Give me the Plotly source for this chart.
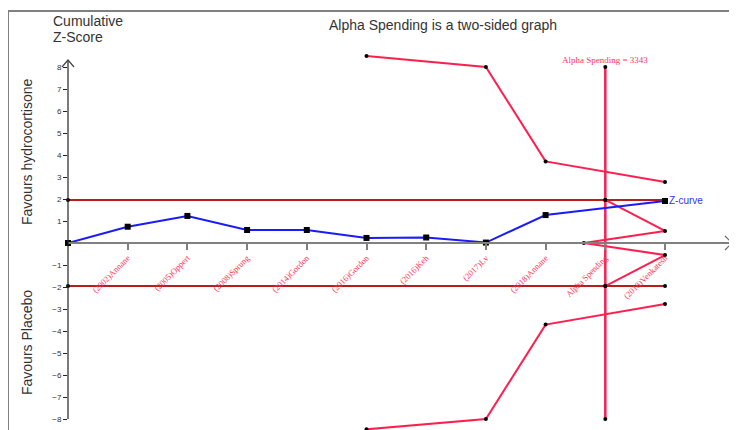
import plotly.graph_objects as go

# ---------------- data ----------------
tick_positions = [1, 2, 3, 4, 5, 6, 7, 8, 9, 10]
tick_labels = ["(2002)Annane", "(2005)Oppert", "(2008)Sprung", "(2014)Gordon",
               "(2016)Gordon", "(2016)Keh", "(2017)Lv", "(2018)Annane",
               "Alpha Spending", "(2018)Venkatesh"]

z_x = [0, 1, 2, 3, 4, 5, 6, 7, 8, 10]
z_values = [0, 0.74, 1.23, 0.59, 0.59, 0.23, 0.25, 0.02, 1.27, 1.91]

conv_x = [0, 9, 10]
conv_upper = [1.96, 1.96, 1.96]
conv_lower = [-1.96, -1.96, -1.96]

bound_x = [5, 7, 8, 10]
bound_upper = [8.5, 8.0, 3.71, 2.77]
bound_lower = [-8.47, -8.0, -3.71, -2.77]

ris_x = [9, 9, 9, 9]
ris_y = [8, 1.96, -1.96, -8]
ris_value = 3343

wedge_x = [9, 10, 8.64, 10, 9]
wedge_y = [1.96, 0.55, 0, -0.55, -1.96]

y_ticks = [-8, -7, -6, -5, -4, -3, -2, -1, 1, 2, 3, 4, 5, 6, 7, 8]

# ---------------- style ----------------
PINK = "#ff1f4f"
DARKRED = "#b81c1c"
BLUE = "#1a1aff"
SANS = "Liberation Sans, Arial, sans-serif"
SERIF = "Liberation Serif, Times New Roman, serif"

# page offset (body margin) compensation
OFF = 8
PAGE_W, PAGE_H = 737, 430
W, H = PAGE_W - OFF, PAGE_H - OFF

# plot area in page pixels
PL, PR, PT, PB = 68, 732, 50, 430
ML, MR, MT, MB = PL - OFF, W - (PR - OFF), PT - OFF, H - (PB - OFF)
plot_w = PR - PL
plot_h = PB - PT
ZERO_Y = 243           # page pixel of z = 0
px_per_x = 59.7
px_per_y = 22.0
x_max = plot_w / px_per_x
y_top = (ZERO_Y - PT) / px_per_y
y_bot = (ZERO_Y - PB) / px_per_y


def paper_x(px):
    return (px - PL) / plot_w


def paper_y(py):
    return (PB - py) / plot_h


fig = go.Figure()

dot = dict(color="black", size=4, symbol="circle")

fig.add_trace(go.Scatter(x=conv_x, y=conv_upper, mode="lines+markers",
                         line=dict(color=DARKRED, width=2), marker=dot,
                         cliponaxis=False, hoverinfo="skip"))
fig.add_trace(go.Scatter(x=conv_x, y=conv_lower, mode="lines+markers",
                         line=dict(color=DARKRED, width=2), marker=dot,
                         cliponaxis=False, hoverinfo="skip"))
fig.add_trace(go.Scatter(x=bound_x, y=bound_upper, mode="lines+markers",
                         line=dict(color=PINK, width=2), marker=dot,
                         cliponaxis=False, hoverinfo="skip"))
fig.add_trace(go.Scatter(x=bound_x, y=bound_lower, mode="lines+markers",
                         line=dict(color=PINK, width=2), marker=dot,
                         cliponaxis=False, hoverinfo="skip"))
fig.add_trace(go.Scatter(x=ris_x, y=ris_y, mode="lines+markers",
                         line=dict(color=PINK, width=2.5), marker=dot,
                         cliponaxis=False, hoverinfo="skip"))
fig.add_trace(go.Scatter(x=wedge_x, y=wedge_y, mode="lines+markers",
                         line=dict(color=PINK, width=2), marker=dot,
                         cliponaxis=False, hoverinfo="skip"))
fig.add_trace(go.Scatter(x=z_x, y=z_values, mode="lines+markers",
                         line=dict(color=BLUE, width=2),
                         marker=dict(color="black", size=6, symbol="square"),
                         cliponaxis=False, hoverinfo="skip"))

zero_pos = (0 - y_bot) / (y_top - y_bot)

fig.update_layout(
    width=W, height=H,
    margin=dict(l=ML, r=MR, t=MT, b=MB, pad=0),
    plot_bgcolor="white", paper_bgcolor="white",
    showlegend=False,
    xaxis=dict(range=[0, x_max], anchor="free", position=zero_pos,
               showgrid=False, zeroline=False, showline=True,
               linecolor="#808080", linewidth=1.5,
               ticks="outside", ticklen=6, tickcolor="#808080", tickwidth=1.5,
               tickvals=tick_positions, ticktext=tick_labels, tickangle=-45,
               tickfont=dict(family=SERIF, size=8.5, color="#ff3355")),
    yaxis=dict(range=[y_bot, y_top], showgrid=False, zeroline=False,
               showline=False, ticks="outside", ticklen=4, tickcolor="#222",
               tickvals=y_ticks,
               tickfont=dict(family=SANS, size=8, color="#333")),
)

# y axis line and arrowheads (paper x so they are not clipped at the plot edge)
arrow_top = (ZERO_Y - 60) / px_per_y
ax_w = 6 / plot_w
ay_h = 7 / px_per_y
fig.add_shape(type="line", xref="paper", yref="y", x0=0, x1=0, y0=-8, y1=arrow_top,
              line=dict(color="#222", width=1.2))
fig.add_shape(type="path", xref="paper", yref="y",
              path=f"M {-ax_w},{arrow_top - ay_h} L 0,{arrow_top} L {ax_w},{arrow_top - ay_h}",
              line=dict(color="#444", width=1.2))
bx_w = 7 / plot_w
by_h = 7 / px_per_y
fig.add_shape(type="path", xref="paper", yref="y",
              path=f"M {1 - bx_w},{by_h} L 1,0 L {1 - bx_w},{-by_h}",
              line=dict(color="#666", width=1.2))

# frame
fig.add_shape(type="rect", xref="paper", yref="paper",
              x0=paper_x(8), x1=1.2, y0=-0.2, y1=paper_y(11),
              line=dict(color="#808080", width=2), layer="below")

# texts
fig.add_annotation(xref="paper", yref="paper", x=paper_x(51), y=paper_y(21),
                   text="Cumulative", showarrow=False, xanchor="left", yanchor="middle",
                   font=dict(family=SANS, size=14, color="#333"))
fig.add_annotation(xref="paper", yref="paper", x=paper_x(51), y=paper_y(37),
                   text="Z-Score", showarrow=False, xanchor="left", yanchor="middle",
                   font=dict(family=SANS, size=14, color="#333"))
fig.add_annotation(xref="paper", yref="paper", x=paper_x(443), y=paper_y(25),
                   text="Alpha Spending is a two-sided graph", showarrow=False,
                   xanchor="center", yanchor="middle",
                   font=dict(family=SANS, size=14, color="#333"))
fig.add_annotation(xref="paper", yref="paper", x=paper_x(27), y=paper_y(152),
                   text="Favours hydrocortisone", showarrow=False, textangle=-90,
                   xanchor="center", yanchor="middle",
                   font=dict(family=SANS, size=14, color="#333"))
fig.add_annotation(xref="paper", yref="paper", x=paper_x(27), y=paper_y(343),
                   text="Favours Placebo", showarrow=False, textangle=-90,
                   xanchor="center", yanchor="middle",
                   font=dict(family=SANS, size=14, color="#333"))
fig.add_annotation(x=z_x[-1], y=z_values[-1], text="Z-curve", showarrow=False,
                   xanchor="left", yanchor="middle", xshift=2,
                   font=dict(family=SANS, size=10, color="#3333ff"))
fig.add_annotation(x=ris_x[0], y=max(ris_y), text=f"Alpha Spending = {ris_value}",
                   showarrow=False, xanchor="center", yanchor="bottom", yshift=0,
                   font=dict(family=SERIF, size=9, color="#ff3366"))

fig.write_html("out.html")
